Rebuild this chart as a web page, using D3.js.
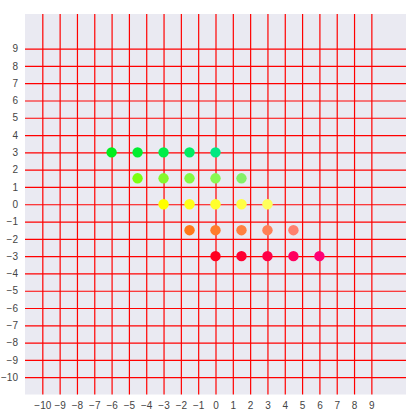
<!DOCTYPE html>
<html><head><meta charset="utf-8">
<script src="https://cdn.jsdelivr.net/npm/d3@7"></script>
<style>body{margin:0;background:#fff;}svg{display:block;}</style>
</head><body>
<svg id="c" width="411" height="416"></svg>
<script>
const ticks = d3.range(-10, 10);
const rowY = [3, 1.5, 0, -1.5, -3];
const rowX = [
  [-6, -4.5, -3, -1.5, 0],
  [-4.5, -3, -1.5, 0, 1.5],
  [-3, -1.5, 0, 1.5, 3],
  [-1.5, 0, 1.5, 3, 4.5],
  [0, 1.5, 3, 4.5, 6]
];
const rowColors = [
  ["#00ee1c", "#00ee30", "#00ee48", "#00ee62", "#00e882"],
  ["#7cff10", "#84f82c", "#86f840", "#88f852", "#84f068"],
  ["#ffff00", "#ffff18", "#ffff2c", "#ffff44", "#ffff5c"],
  ["#ff781a", "#ff7c2c", "#ff8040", "#ff7f56", "#ff806e"],
  ["#ff0020", "#ff0032", "#ff0046", "#ff005e", "#ff0076"]
];
const points = [];
rowY.forEach((y, i) => rowX[i].forEach((x, j) => points.push({x, y, c: rowColors[i][j]})));

const svg = d3.select("#c");
const L = 25, R = 406, T = 14, B = 394.5;
const x = d3.scaleLinear().domain([-11, 11]).range([L, R]);
const y = d3.scaleLinear().domain([-11, 11]).range([B, T]);

svg.append("rect").attr("x", L).attr("y", T).attr("width", R - L).attr("height", B - T).attr("fill", "#eaeaf2");

const fmt = d => d < 0 ? "\u2212" + Math.abs(d) : String(d);

const gx = svg.append("g").attr("transform", `translate(0,${B})`)
  .call(d3.axisBottom(x).tickValues(ticks).tickFormat(fmt).tickSize(-(B - T)).tickPadding(7));
const gy = svg.append("g").attr("transform", `translate(${L},0)`)
  .call(d3.axisLeft(y).tickValues(ticks).tickFormat(fmt).tickSize(-(R - L)).tickPadding(7));
[gx, gy].forEach(g => {
  g.select(".domain").remove();
  g.selectAll(".tick line").attr("stroke", "#ff0000").attr("stroke-width", 1.2);
  g.selectAll(".tick text").attr("fill", "#444").style("font-family", "Liberation Sans, Arial, sans-serif").style("font-size", "10px");
});

svg.append("g").selectAll("circle").data(points).join("circle")
  .attr("cx", d => x(d.x)).attr("cy", d => y(d.y)).attr("r", 5.2).attr("fill", d => d.c);
</script>
</body></html>
